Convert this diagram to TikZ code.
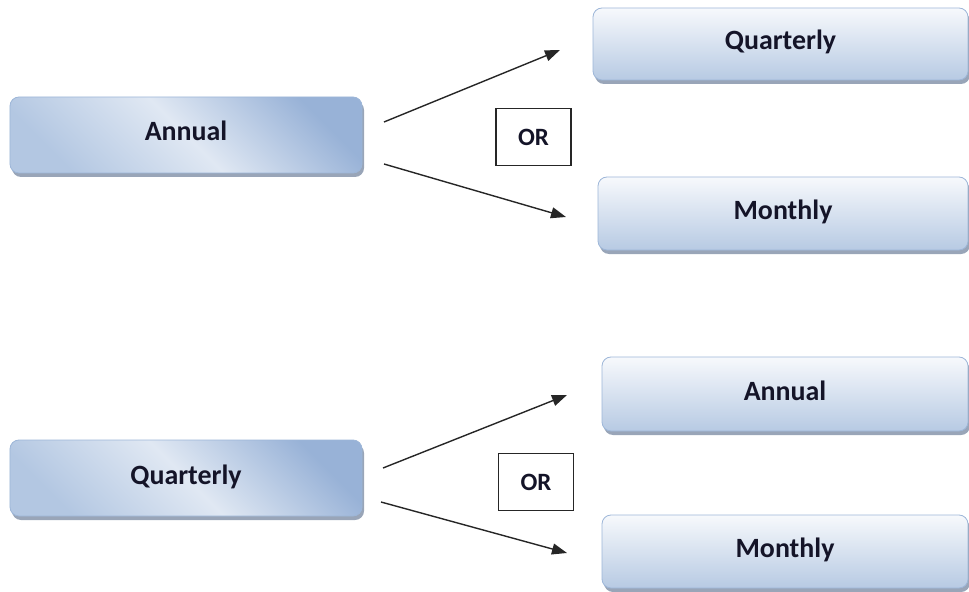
\documentclass[tikz,border=0pt]{standalone}
\usepackage{fontspec}
\setmainfont{Carlito}
\usetikzlibrary{arrows.meta,shadows}
\definecolor{txt}{HTML}{141428}
\definecolor{bord}{HTML}{9DB6D8}
\definecolor{lboxA}{HTML}{B3C7E2}
\definecolor{lboxB}{HTML}{E0E8F3}
\definecolor{lboxC}{HTML}{98B2D7}
\definecolor{rtop}{HTML}{F7F9FC}
\definecolor{rbot}{HTML}{B7CAE3}
\definecolor{shad}{HTML}{7F8FA6}
\tikzset{
  boxbase/.style={rounded corners=9bp, draw=bord, line width=0.8bp,
    font=\fontsize{28}{32}\selectfont\bfseries, text=txt, inner sep=0pt,
    text height=18bp, text depth=6bp,
    drop shadow={shadow xshift=2bp, shadow yshift=-4bp, fill=shad, opacity=0.8}},
  leftbox/.style={boxbase, minimum width=352bp, minimum height=76bp,
    bottom color=lboxA, top color=lboxC, middle color=lboxB, shading angle=-45},
  rightbox/.style={boxbase, top color=rtop, bottom color=rbot},
  orbox/.style={draw=black!85, line width=1.3bp, fill=white, minimum width=75bp,
    minimum height=57bp, inner sep=0pt, font=\fontsize{25}{28}\selectfont\bfseries, text=txt},
  conn/.style={line width=1.4bp, draw=black!85, -{Triangle[length=15bp,width=11bp]}}
}
\begin{document}
\begin{tikzpicture}[x=1bp,y=-1bp]
\useasboundingbox (0,0) rectangle (969,592);
% top group
\node[leftbox] (A1) at (186,135) {Annual};
\node[rightbox, minimum width=375bp, minimum height=72bp] (Q1) at (780.5,44) {Quarterly};
\node[rightbox, minimum width=370bp, minimum height=73bp] (M1) at (783,213.5) {Monthly};
\node[orbox] (OR1) at (533.5,137) {OR};
\coordinate (a1u) at (384,122);
\coordinate (a1d) at (384,164);
\coordinate (q1e) at (560,50);
\coordinate (m1e) at (566,217);
\draw[conn] (a1u) -- (q1e);
\draw[conn] (a1d) -- (m1e);
% bottom group
\node[leftbox] (Q2) at (186,478) {Quarterly};
\node[rightbox, minimum width=366bp, minimum height=74bp] (A2) at (785,394) {Annual};
\node[rightbox, minimum width=366bp, minimum height=73bp] (M2) at (785,551.5) {Monthly};
\node[orbox] (OR2) at (536,482) {OR};
\coordinate (q2u) at (383,468);
\coordinate (q2d) at (381,502);
\coordinate (a2e) at (567,395);
\coordinate (m2e) at (567,553);
\draw[conn] (q2u) -- (a2e);
\draw[conn] (q2d) -- (m2e);
\end{tikzpicture}
\end{document}
